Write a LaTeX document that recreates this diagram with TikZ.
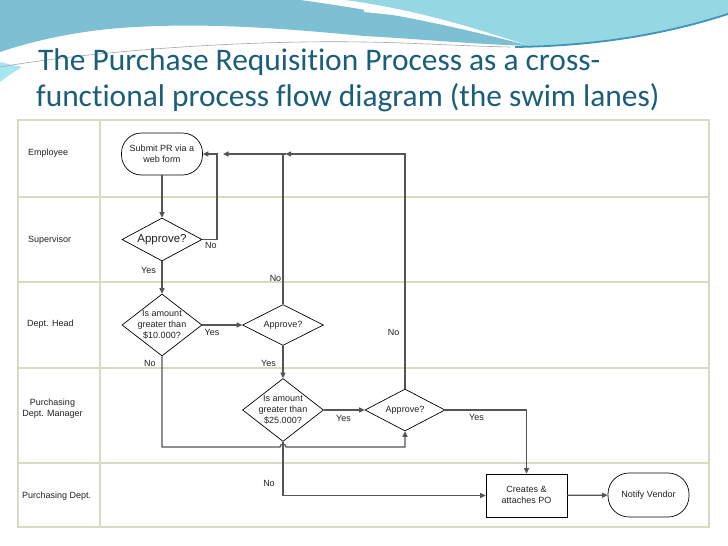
\documentclass[tikz,border=0pt]{standalone}
\usepackage{fontspec}
\setmainfont{Liberation Sans}
\newfontfamily\titlefont[Ligatures=CommonOff]{Carlito}
\usetikzlibrary{shapes.geometric,arrows.meta,calc}
\definecolor{titlec}{HTML}{1B5E7A}
\definecolor{lanec}{HTML}{D6DCC2}
\definecolor{linec}{HTML}{555555}
\definecolor{blueA}{HTML}{7DC0D4}
\definecolor{blueB}{HTML}{96D7E4}
\definecolor{blueC}{HTML}{3E95B8}
\definecolor{cyanL}{HTML}{A6E6F0}
\definecolor{txtc}{HTML}{222222}
\newcommand\ntext[1]{\smash{\makebox[0pt]{\raisebox{-2.8pt}{\begin{tabular}[c]{@{}c@{}}#1\end{tabular}}}}}
\begin{document}
\begin{tikzpicture}[x=1pt,y=-1pt,
  lane/.style={draw=lanec,line width=1.3pt},
  box/.style={draw=black,line width=0.7pt,inner sep=0pt,text=txtc,
    font=\fontsize{9}{11}\selectfont},
  terminal/.style={box,rectangle,rounded corners=20pt},
  process/.style={box,rectangle},
  decision/.style={box,diamond},
  conn/.style={draw=linec,line width=1.2pt,-{Triangle[length=5.5pt,width=5pt]}},
  plain/.style={draw=linec,line width=1.2pt},
  lbl/.style={text=txtc,font=\fontsize{9}{11}\selectfont,inner sep=0pt},
  lanelbl/.style={text=txtc,font=\fontsize{9}{11}\selectfont,inner sep=0pt},
  ttl/.style={anchor=base west,inner sep=0pt,text=titlec,font=\titlefont\fontsize{31.4}{35}\selectfont}]
\useasboundingbox (0,0) rectangle (728,546);
\fill[white] (0,0) rectangle (728,546);
% ---- decorative header waves
\fill[blueA] (0,0) -- (300,0) .. controls (390,12) and (470,30) .. (530,46)
  .. controls (470,44) and (420,39) .. (364,36) .. controls (280,28) and (200,22) .. (120,28)
  .. controls (70,32) and (30,42) .. (0,52) -- cycle;
\fill[blueB] (345,0) -- (728,0) -- (728,14) .. controls (660,36) and (590,47) .. (530,46)
  .. controls (480,30) and (420,10) .. (345,0) -- cycle;
\fill[white] (364,9) .. controls (390,12) and (410,16) .. (432,19)
  .. controls (410,17) and (385,14) .. (364,12) -- cycle;
\fill[cyanL] (0,62) .. controls (8,64) and (16,66) .. (22,67) .. controls (14,72) and (6,77) .. (0,82) -- cycle;
\draw[blueC,line width=1.8pt] (515,47) .. controls (590,46) and (660,36) .. (728,14);
\draw[gray!70,line width=0.6pt] (0,67) .. controls (100,50) and (250,40) .. (364,42)
  .. controls (420,43) and (460,46) .. (510,47);
% ---- title
\node[ttl] (t1) at (38,70.6) {The Purchase Requisition Process as a cross-};
\node[ttl] (t2) at (36,106) {functional process flow diagram (the swim lanes)};
% ---- swim lanes
\draw[lane] (18,120) rectangle (709,527);
\foreach \yy in {197,282,368,463} \draw[lane] (18,\yy) -- (709,\yy);
\draw[lane] (100,120) -- (100,527);
\node[lanelbl,anchor=west] (l1) at (28,153) {Employee};
\node[lanelbl,anchor=west] (l2) at (28,240.5) {Supervisor};
\node[lanelbl,anchor=west] (l3) at (27,324.5) {Dept. Head};
\node[lanelbl,align=center] (l4) at (52.5,408.5) {Purchasing\\Dept. Manager};
\node[lanelbl,anchor=west] (l5) at (22,496) {Purchasing Dept.};
% ---- nodes
\node[terminal,minimum width=81pt,minimum height=42pt] (sub) at (162,154) {\ntext{Submit PR via a\\web form}};
\node[decision,minimum width=80pt,minimum height=43pt] (sapp) at (162,239.5) {\ntext{\fontsize{11.5}{13}\selectfont Approve?}};
\node[decision,minimum width=80pt,minimum height=62pt] (d1) at (162,325) {\ntext{Is amount\\greater than\\\$10.000?}};
\node[decision,minimum width=81pt,minimum height=41pt] (dapp) at (283,325) {\ntext{Approve?}};
\node[decision,minimum width=81pt,minimum height=63pt] (d2) at (283,410) {\ntext{Is amount\\greater than\\\$25.000?}};
\node[decision,minimum width=80pt,minimum height=42pt] (papp) at (405,410) {\ntext{Approve?}};
\node[process,minimum width=81pt,minimum height=43pt] (po) at (526.5,495.5) {\ntext{Creates \&\\attaches PO}};
\node[terminal,minimum width=81pt,minimum height=44pt,rounded corners=21pt] (nv) at (648.5,495) {\ntext{Notify Vendor}};
% ---- helper coordinates
\coordinate (k1) at (217,239.5);
\coordinate (j1) at (285.5,154);
\coordinate (j0) at (223,154);
\coordinate (h1) at (280,447);
% ---- connectors
\draw[conn] (sub) -- (sapp);
\draw[conn] (sapp.east) -- (k1) |- (sub.east);
\draw[conn] (sapp) -- (d1);
\draw[conn] (d1) -- (dapp);
\draw[plain] (dapp.north) -- (dapp.north |- j1);
\draw[conn] (dapp) -- (d2);
\draw[conn] (d1.south) |- (h1) arc[start angle=180,end angle=360,radius=3] -| (papp.south);
\draw[conn] (d2) -- (papp);
\draw[conn] (d2.south) |- (po.west);
\draw[conn] (papp.north) |- (j1);
\draw[conn] (j1) -- (j0);
\draw[conn] (papp.east) -| (po.north);
\draw[conn] (po) -- (nv);
% ---- connector labels
\node[lbl] (n1) at (211,245.5) {No};
\node[lbl] (y1) at (148.5,270) {Yes};
\node[lbl] (y2) at (212,332) {Yes};
\node[lbl] (n2) at (275.5,278) {No};
\node[lbl] (y3) at (268.5,363.5) {Yes};
\node[lbl] (n3) at (150,363.5) {No};
\node[lbl] (y4) at (343.5,418) {Yes};
\node[lbl] (n4) at (269,483) {No};
\node[lbl] (n5) at (393.5,332) {No};
\node[lbl] (y5) at (476.5,417.5) {Yes};
\end{tikzpicture}
\end{document}
